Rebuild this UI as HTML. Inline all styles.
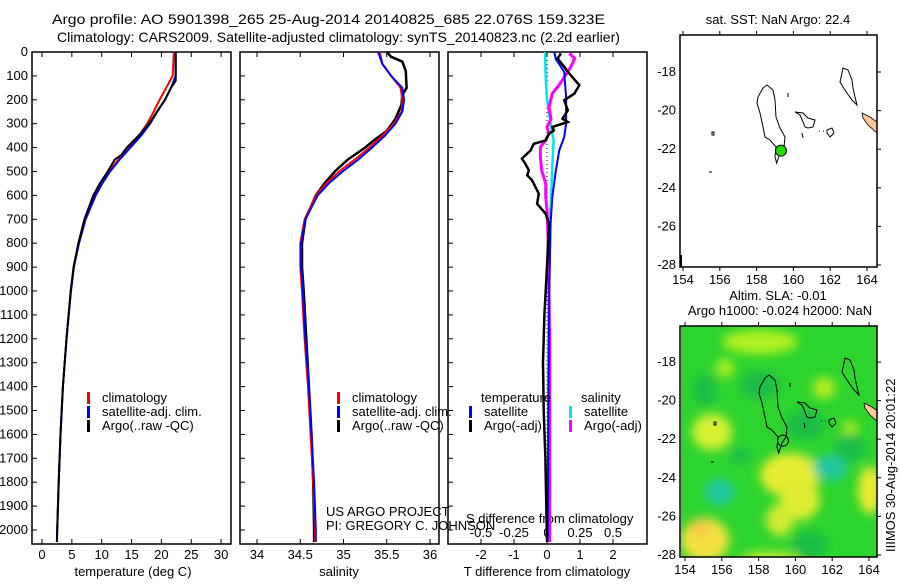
<!DOCTYPE html>
<html><head><meta charset="utf-8"><style>
body{margin:0;background:#fff;}
svg{font-family:"Liberation Sans",sans-serif;font-size:13px;}
</style></head><body>
<svg id="c" width="900" height="580" viewBox="0 0 900 580" xmlns="http://www.w3.org/2000/svg">
<defs>
<filter id="bl" x="-50%" y="-50%" width="200%" height="200%"><feGaussianBlur stdDeviation="5"/></filter>
<clipPath id="m2clip"><rect x="681" y="326" width="196" height="231"/></clipPath>
<clipPath id="m1clip"><rect x="680" y="35" width="197" height="232"/></clipPath>
</defs>
<text x="52" y="24" font-size="14" textLength="553" lengthAdjust="spacingAndGlyphs">Argo profile: AO 5901398_265 25-Aug-2014 20140825_685 22.076S 159.323E</text>
<text x="57" y="42" font-size="14" textLength="563" lengthAdjust="spacingAndGlyphs">Climatology: CARS2009. Satellite-adjusted climatology: synTS_20140823.nc (2.2d earlier)</text>
<g id="g"></g>
</svg>
<script>
// ---- data ----
const depthTicks=[0,100,200,300,400,500,600,700,800,900,1000,1100,1200,1300,1400,1500,1600,1700,1800,1900,2000];
const tempTicks=[0,5,10,15,20,25,30];
const salTicks=[34,34.5,35,35.5,36];
const tdiffTicks=[-2,-1,0,1,2];
const sdiffTicks=[-0.5,-0.25,0,0.25,0.5];
const sdiffLabels=["-0.5","-0.25","0","0.25","0.5"];

const tClimDepth=[0,100,150,200,250,300,350,400,450,500,550,600,700,800,900,1000,1200,1400,1600,1800,2000,2050];
const tClim=[22.1,21.9,20.8,19.7,18.7,17.6,16.3,14.6,12.8,11.2,10,8.9,7.2,6.1,5.3,4.8,4.1,3.5,3.1,2.8,2.55,2.5];
const tSat=[22.4,22.4,21.6,20.6,19.3,18.1,16.6,14.8,13,11.4,10.1,9,7.3,6.2,5.35,4.85,4.1,3.5,3.1,2.8,2.55,2.5];
const tArgoDepth=[0,120,150,200,300,350,400,430,450,500,550,600,700,800,900,1000,1200,1400,1600,1800,2000,2050];
const tArgo=[22.4,22.4,21.6,20.6,17.9,16.2,14.2,13.3,12.2,11,9.7,8.6,7.1,6.1,5.3,4.8,4.1,3.5,3.1,2.8,2.55,2.5];

const sDepth=[0,50,100,150,200,250,300,350,400,450,500,550,600,700,800,900,1000,1200,1400,1600,1800,2000,2050];
const sClim=[35.42,35.45,35.55,35.66,35.68,35.67,35.58,35.45,35.3,35.13,34.95,34.8,34.68,34.55,34.5,34.5,34.52,34.55,34.59,34.62,34.65,34.67,34.67];
const sSat=[35.4,35.45,35.55,35.68,35.7,35.68,35.6,35.48,35.33,35.17,34.99,34.83,34.7,34.56,34.51,34.51,34.53,34.56,34.6,34.63,34.66,34.68,34.68];
const sArgoDepth=[0,20,40,80,150,180,220,280,330,370,400,450,500,550,600,700,800,900,1000,1200,1400,1600,1800,2000,2050];
const sArgo=[35.5,35.55,35.68,35.72,35.73,35.68,35.67,35.6,35.5,35.35,35.25,35.05,34.9,34.78,34.68,34.56,34.52,34.52,34.54,34.57,34.6,34.63,34.65,34.66,34.66];

const dTArgoDepth=[6,27,62,83,139,174,202,244,279,293,314,328,342,370,384,412,446,467,495,516,537,593,635,677,719,900,1100,1300,1500,1700,1900,2050];
const dTArgo=[0.42,0.32,0.52,0.63,0.98,0.83,0.52,0.63,0.47,0.63,0.16,0.21,0.06,-0.04,-0.4,-0.5,-0.76,-0.66,-0.55,-0.6,-0.45,-0.25,-0.3,-0.04,0.06,0,-0.08,-0.12,-0.1,-0.05,-0.02,0];
const dTSatDepth=[0,30,83,190,300,356,412,495,607,719,1000,1500,2050];
const dTSat=[0.22,0.27,0.52,0.58,0.58,0.52,0.37,0.27,0.16,0.11,0.07,0.04,0.02];
const dSArgoDepth=[6,27,62,90,139,174,230,280,314,342,377,398,440,495,551,607,663,800,1200,1600,2050];
const dSArgo=[0.17,0.21,0.18,0.15,0.09,0.04,0.015,0.03,0,0.015,-0.02,-0.05,-0.05,-0.04,-0.01,-0.01,0,0.01,0.02,0.02,0.02];
const dSSatDepth=[0,110,200,310,370,480,620,719,1200,2050];
const dSSat=[-0.015,-0.01,0,0.03,0.05,0.04,0.03,0.02,0.01,0.01];

const floatLon=[159.323], floatLat=[-22.076];
const mapLonTicks=[154,156,158,160,162,164];
const mapLatTicks=[-18,-20,-22,-24,-26,-28];

// ---- helpers ----
const NS="http://www.w3.org/2000/svg";
const G=document.getElementById('g');
function el(t,a,p){const e=document.createElementNS(NS,t);for(const k in a)e.setAttribute(k,a[k]);(p||G).appendChild(e);return e;}
const yD=d=>52+d*0.239;
const xT=t=>42+t*5.97;
const xS=s=>257+(s-34)*86.5;
const xDT=t=>547+t*33;
const xDS=s=>547+s*132;
const PT=52,PB=544;
function panel(x0,x1,name){
 const r=el('rect',{x:x0,y:PT,width:x1-x0,height:PB-PT,fill:'none',stroke:'#000','stroke-width':1.5});
 
 
 depthTicks.forEach(d=>{el('line',{x1:x0,x2:x0+5,y1:yD(d),y2:yD(d),stroke:'#000'});});
}
function xticks(vals,f,labs,y,name){
 vals.forEach((v,i)=>{const x=f(v);
  el('line',{x1:x,x2:x,y1:PT,y2:PT+5,stroke:'#000'});
  el('line',{x1:x,x2:x,y1:PB,y2:PB-5,stroke:'#000'});
  const t=el('text',{x:x,y:y,'text-anchor':'middle'});t.textContent=labs?labs[i]:String(v);
  
  
 });
}
function line(xs,ds,fx,color,name,w,dash){
 const pts=xs.map((v,i)=>fx(v).toFixed(1)+','+yD(ds[i]).toFixed(1)).join(' ');
 const a={points:pts,fill:'none',stroke:color,'stroke-width':w||2,'stroke-linejoin':'miter'};
 if(dash)a['stroke-dasharray']=dash;
 const p=el('polyline',a);
 
 
}
function txt(x,y,s,name,extra){const t=el('text',Object.assign({x:x,y:y},extra||{}));t.textContent=s;
 
 return t;}

// depth labels
depthTicks.forEach(d=>{txt(28,yD(d)+4,String(d),'depth-tick-label',{'text-anchor':'end'});});

// panel 1
panel(32,231,'temperature-panel');
xticks(tempTicks,xT,null,559,'temperature-tick-label');
txt(133,576,'temperature (deg C)','temperature-axis-title',{'text-anchor':'middle'});
line(tClim,tClimDepth,xT,'#ff0000','temp-climatology-line');
line(tSat,tClimDepth,xT,'#0000ff','temp-satellite-line');
line(tArgo,tArgoDepth,xT,'#000','temp-argo-line');
// panel 2
panel(240,439,'salinity-panel');
xticks(salTicks,xS,["34","34.5","35","35.5","36"],559,'salinity-tick-label');
txt(339,576,'salinity','salinity-axis-title',{'text-anchor':'middle'});
line(sArgo,sArgoDepth,xS,'#000','sal-argo-line',2.5);
line(sClim,sDepth,xS,'#ff0000','sal-climatology-line');
line(sSat,sDepth,xS,'#0000ff','sal-satellite-line');
// panel 3
panel(448,647,'difference-panel');
xticks(tdiffTicks,xDT,null,559,'tdiff-tick-label');
sdiffTicks.forEach((v,i)=>{txt(xDS(v),537,sdiffLabels[i],'sdiff-tick-label',{'text-anchor':'middle'});});
txt(466,523,'S difference from climatology','sdiff-axis-title');
txt(547,576,'T difference from climatology','tdiff-axis-title',{'text-anchor':'middle'});
el('line',{x1:547,x2:547,y1:PT,y2:PB,stroke:'#000','stroke-dasharray':'1,3'});
line(dSSat,dSSatDepth,xDS,'#00e5ee','sdiff-satellite-line',2.5);
line(dSArgo,dSArgoDepth,xDS,'#ff00ff','sdiff-argo-line',3);
line(dTSat,dTSatDepth,xDT,'#0000ff','tdiff-satellite-line');
line(dTArgo,dTArgoDepth,xDT,'#000','tdiff-argo-line',2.5);

// legends
function leg(x,y,c,s,name){el('rect',{x:x,y:y-10,width:3,height:12,fill:c});txt(x+15,y,s,name);}
leg(87,402,'#ff0000','climatology','legend-climatology');
leg(87,416,'#0000ff','satellite-adj. clim.','legend-satellite-adj');
leg(87,430,'#000','Argo(..raw -QC)','legend-argo');
leg(337,402,'#ff0000','climatology','legend-climatology');
leg(337,416,'#0000ff','satellite-adj. clim.','legend-satellite-adj');
leg(337,430,'#000','Argo(..raw -QC)','legend-argo');
txt(481,402,'temperature','legend-temperature-heading');
leg(469,416,'#0000ff','satellite','legend-t-satellite');
leg(469,430,'#000','Argo(-adj)','legend-t-argo');
txt(581,402,'salinity','legend-salinity-heading');
leg(569,416,'#00e5ee','satellite','legend-s-satellite');
leg(569,430,'#ff00ff','Argo(-adj)','legend-s-argo');
txt(326,516,'US ARGO PROJECT','credit-project');
txt(326,530,'PI: GREGORY C. JOHNSON','credit-pi');

// ---- maps ----
const mx1=l=>683+(l-154)*18.4, my1=l=>72+(-18-l)*19.3;
function mapFrame(y0,h,name,dy){
 const r=el('rect',{x:680,y:y0,width:197,height:h,fill:'none',stroke:'#000','stroke-width':1.5});
 
 
 mapLonTicks.forEach(l=>{const x=mx1(l)+(dy?2:0);
  el('line',{x1:x,x2:x,y1:y0-4,y2:y0,stroke:'#000'});
  el('line',{x1:x,x2:x,y1:y0+h,y2:y0+h+4,stroke:'#000'});
  txt(x,y0+h+17,String(l),'map-lon-label',{'text-anchor':'middle'});});
 mapLatTicks.forEach(l=>{const y=my1(l)+dy;
  el('line',{x1:877,x2:881,y1:y,y2:y,stroke:'#000'});
  txt(676,y+4,String(l),'map-lat-label',{'text-anchor':'end'});});
}
const islands=`M763,88 L767,85 L773,90 L775,100 L776,117 L780,128 L785,137 L784,147 L780,153 L776.7,163 L775,157 L776,147 L770,140 L765,137 L763,127 L760,113 L757,103 L758,97 Z
M795,112 L803,113 L808,118 L815,120 L813,127 L808,128 L805,127 L803,122 L800,115 Z M802,133 L803,138
M827,130 L832,128 L834,133 L830,137 L827,133 Z
M842,73 L843,68 L848,70 L852,80 L853,88 L855,97 L857,105 L852,100 L847,93 L843,87 L840,82 Z
M712,132 l2,0 l0,3 l-2,0 Z M709,172 l3,0 M788,93 l0,4 M819,131 l1,0 M823,131 l1,0`;
const land='M862,113 L870,117 L877,122 L877,133 L868,125 L863,118 Z';

txt(778,24,'sat. SST: NaN Argo: 22.4','map1-title',{'text-anchor':'middle'});
const m1=el('g',{'clip-path':'url(#m1clip)'});


el('path',{d:islands,fill:'none',stroke:'#000','stroke-width':1},m1);
el('path',{d:land,fill:'#ffc896',stroke:'#000','stroke-width':0.8},m1);
el('rect',{x:680,y:255,width:2,height:12,fill:'#000'},m1);
const dot=el('circle',{cx:mx1(floatLon[0]),cy:my1(floatLat[0]),r:5.5,fill:'#22dd00',stroke:'#000'});


mapFrame(35,232,'map1-frame',0);

// map2
txt(778,300,'Altim. SLA: -0.01','map2-title-line1',{'text-anchor':'middle'});
txt(780,315,'Argo h1000: -0.024 h2000: NaN','map2-title-line2',{'text-anchor':'middle'});
const m2=el('g',{'clip-path':'url(#m2clip)'});


el('rect',{x:681,y:326,width:196,height:231,fill:'#2ed42e'},m2);
const bl=el('g',{filter:'url(#bl)'},m2);
[[760,342,38,12,'#b0f020'],[725,368,9,9,'#b0f020'],[712,432,20,18,'#d8f030'],[790,475,30,22,'#e8ec30'],
 [800,500,20,20,'#e0ec30'],[780,520,14,16,'#d0ec30'],[705,540,24,22,'#f4e040'],[700,528,10,10,'#f8c848'],
 [870,490,12,24,'#ecea30'],[824,388,11,11,'#b8ec20'],[850,430,8,10,'#a0e820'],[770,560,30,8,'#c8ec30'],
 [720,492,15,13,'#20c8a0'],[830,468,17,13,'#20c8a0'],[760,385,20,14,'#1cbc48'],[805,425,20,15,'#1cbc48'],
 [850,448,16,14,'#1cbc48'],[810,545,18,14,'#1cbc48'],[705,390,12,16,'#1cbc48'],[740,455,10,8,'#1cbc48']
].forEach(b=>el('ellipse',{cx:b[0],cy:b[1],rx:b[2],ry:b[3],fill:b[4]},bl));
const g2=el('g',{transform:'translate(2,290)'},m2);
el('path',{d:islands,fill:'none',stroke:'#000','stroke-width':1},g2);
el('path',{d:land,fill:'#ffc896',stroke:'#000','stroke-width':0.8},g2);
el('circle',{cx:mx1(floatLon[0]),cy:my1(floatLat[0]),r:5.5,fill:'none',stroke:'#000'},g2);
mapFrame(326,231,'map2-frame',290);
txt(0,0,'IIIMOS 30-Aug-2014 20:01:22','timestamp-label',{transform:'translate(895,552) rotate(-90)'});
</script>
</body></html>
